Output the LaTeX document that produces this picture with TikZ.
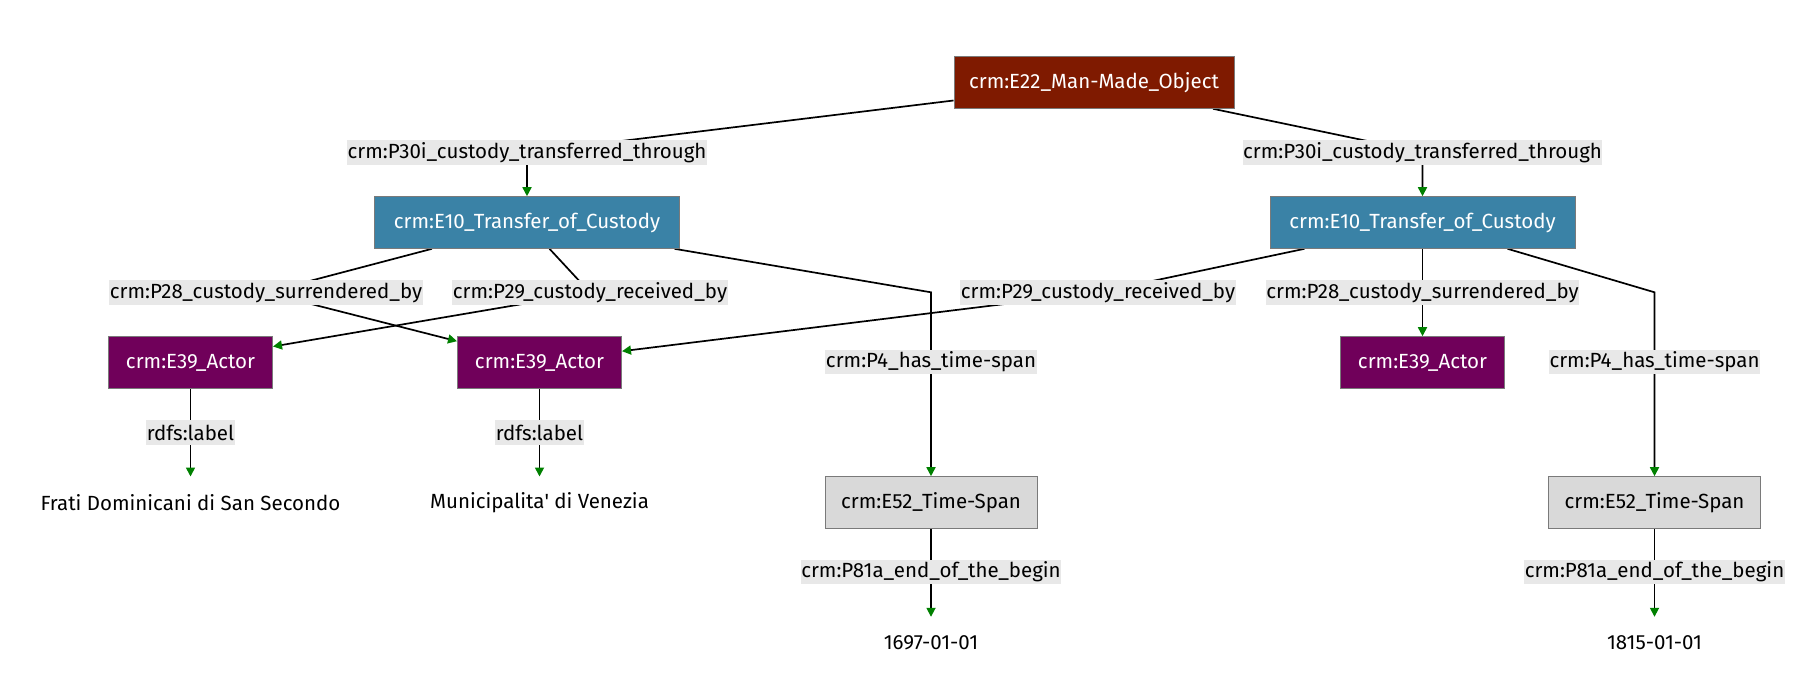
\documentclass[tikz,border=0pt]{standalone}
\usepackage{fontspec}
\setmainfont{Fira Sans}
\newfontfamily\plainquote{Fira Sans}
\usetikzlibrary{arrows.meta,backgrounds}
\definecolor{cobj}{HTML}{7F1A00}
\definecolor{ctoc}{HTML}{3A82A6}
\definecolor{cact}{HTML}{70005A}
\definecolor{ctime}{HTML}{D9D9D9}
\definecolor{clbl}{HTML}{E8E8E8}
\definecolor{cborder}{HTML}{7A7A7A}
\definecolor{agreen}{HTML}{008000}
\begin{document}
\begin{tikzpicture}[x=1pt,y=-1pt,
  every node/.style={font=\fontsize{20.5}{24}\selectfont},
  box/.style={draw=cborder, line width=1pt, minimum height=51.6pt, inner sep=0pt},
  objbox/.style={box, fill=cobj, text=white, minimum width=280pt},
  tocbox/.style={box, fill=ctoc, text=white, minimum width=305pt},
  actbox/.style={box, fill=cact, text=white, minimum width=164pt},
  timebox/.style={box, fill=ctime, text=black, minimum width=212pt},
  lbl/.style={fill=clbl, inner xsep=0.5pt, inner ysep=0pt, minimum height=24.5pt},
  txt/.style={inner sep=0pt, minimum height=52pt},
  edge/.style={line width=1.7pt, black},
  arr/.style={edge, -{Triangle[length=9pt,width=9pt,color=agreen]}}]
\useasboundingbox (0,0) rectangle (1816,682);
% nodes
\node[objbox] (e22) at (1094,82.5) {crm:E22\_Man-Made\_Object};
\node[tocbox] (e10l) at (527,222.5) {crm:E10\_Transfer\_of\_Custody};
\node[tocbox] (e10r) at (1422.5,222.5) {crm:E10\_Transfer\_of\_Custody};
\node[lbl] (p30l) at (527,152.5) {crm:P30i\_custody\_transferred\_through};
\node[lbl] (p30r) at (1422.5,152.5) {crm:P30i\_custody\_transferred\_through};
\node[lbl] (p28l) at (266,292.5) {crm:P28\_custody\_surrendered\_by};
\node[lbl] (p29l) at (590,292.5) {crm:P29\_custody\_received\_by};
\node[lbl] (p29r) at (1098,292.5) {crm:P29\_custody\_received\_by};
\node[lbl] (p28r) at (1422.5,292.5) {crm:P28\_custody\_surrendered\_by};
\node[lbl] (p4l) at (931,362) {crm:P4\_has\_time-span};
\node[lbl] (p4r) at (1654.5,362) {crm:P4\_has\_time-span};
\node[actbox] (actl) at (190.5,362.5) {crm:E39\_Actor};
\node[actbox] (actm) at (539.5,362.5) {crm:E39\_Actor};
\node[actbox] (actr) at (1422.5,362.5) {crm:E39\_Actor};
\node[lbl] (rdfsl) at (190.5,432.5) {rdfs:label};
\node[lbl] (rdfsm) at (539.5,432.5) {rdfs:label};
\node[txt] (frati) at (190.5,502.7) {Frati Dominicani di San Secondo};
\node[txt] (muni) at (539.5,502.7) {Municipalita{\plainquote'} di Venezia};
\node[timebox] (timel) at (931,502.5) {crm:E52\_Time-Span};
\node[timebox] (timer) at (1654.5,502.5) {crm:E52\_Time-Span};
\node[lbl] (p81l) at (931,572) {crm:P81a\_end\_of\_the\_begin};
\node[lbl] (p81r) at (1654.5,572) {crm:P81a\_end\_of\_the\_begin};
\node[txt] (d1) at (931,643) {1697-01-01};
\node[txt] (d2) at (1654.5,643) {1815-01-01};
\coordinate (bl) at (931,292.3);
\coordinate (br) at (1654.5,292.3);
% edges
\begin{pgfonlayer}{background}
\draw[arr] ([yshift=8.3pt]e22.south west) -- (p30l.center) -- (e10l.north);
\draw[arr] ([xshift=-21.5pt]e22.south east) -- (p30r.center) -- (e10r.north);
\draw[arr] ([xshift=58pt]e10l.south west) -- (p28l.center) -- ([yshift=-5pt]actm.north west);
\draw[arr] ([xshift=175.5pt]e10l.south west) -- (p29l.center) -- ([yshift=-10.3pt]actl.north east);
\draw[arr] ([xshift=-5.5pt]e10l.south east) -- (bl) -- (p4l.center) -- (timel.north);
\draw[arr] ([xshift=35pt]e10r.south west) -- (p29r.center) -- ([yshift=-15pt]actm.north east);
\draw[arr] (e10r.south) -- (p28r.center) -- (actr.north);
\draw[arr] ([xshift=-68pt]e10r.south east) -- (br) -- (p4r.center) -- (timer.north);
\draw[arr] (actl.south) -- (rdfsl.center) -- (frati.north);
\draw[arr] (actm.south) -- (rdfsm.center) -- (muni.north);
\draw[arr] (timel.south) -- (p81l.center) -- (d1.north);
\draw[arr] (timer.south) -- (p81r.center) -- (d2.north);
\end{pgfonlayer}
\end{tikzpicture}
\end{document}
